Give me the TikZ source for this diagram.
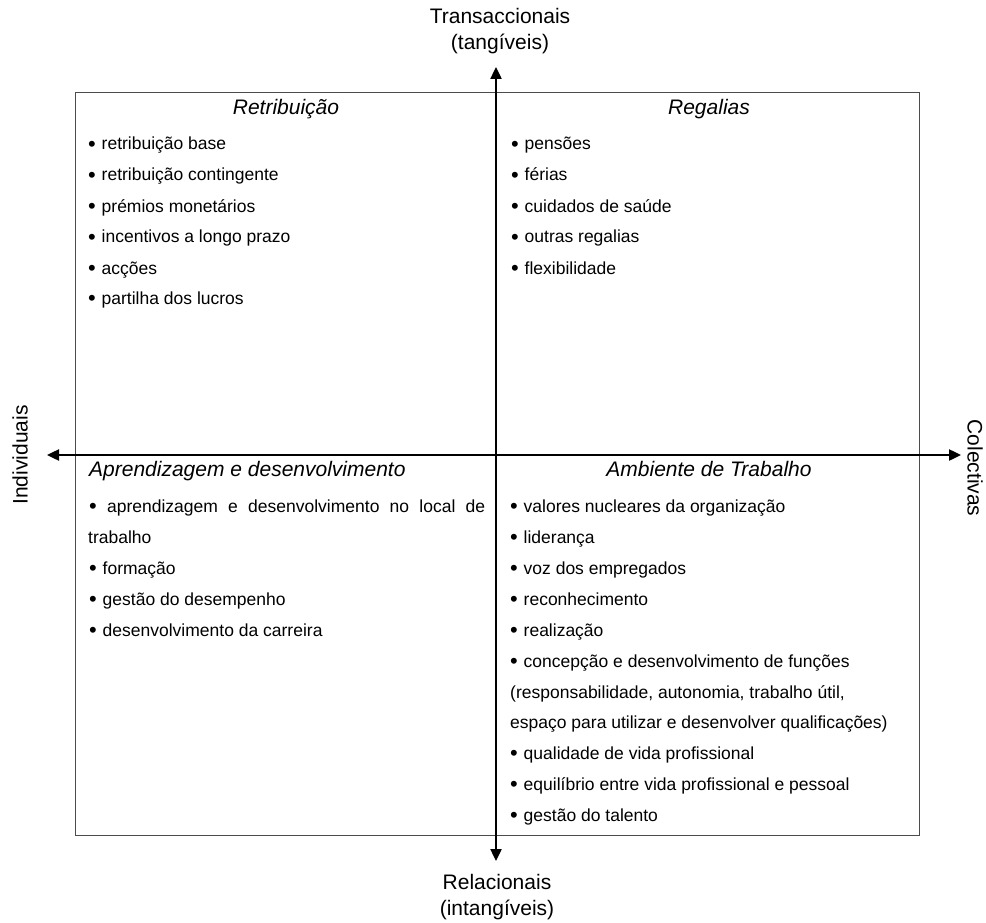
\documentclass[tikz,border=0pt]{standalone}
\usepackage{fontspec}
\setmainfont{Liberation Sans}
\usetikzlibrary{arrows.meta}

% list bullet: a slightly enlarged dot, and the same dot followed by a fixed gap
\newcommand\dotglyph{\raisebox{-1.6pt}{\scalebox{1.25}{•}}}
\newcommand\listdot{\makebox[13.5pt][l]{\dotglyph}}

\begin{document}
\begin{tikzpicture}[x=1pt,y=-1pt,
  item/.style={anchor=base west, inner sep=0pt, font=\fontsize{17.5}{21}\selectfont},
  head/.style={anchor=base, inner sep=0pt, font=\fontsize{21}{25}\selectfont\itshape},
  axislabel/.style={align=center, inner sep=0pt, font=\fontsize{21}{26}\selectfont},
  axis/.style={line width=2.4pt, {Triangle[length=12pt,width=11pt]}-{Triangle[length=12pt,width=11pt]}},
  frame/.style={draw=black!70, line width=1pt}]
\useasboundingbox (0,0) rectangle (986,923);

% outer frame of the four quadrants
\draw[frame] (75,93) rectangle (919,835);

% axes
\coordinate (top) at (496,67);
\coordinate (bottom) at (496,861);
\coordinate (left) at (47,455);
\coordinate (right) at (961,455);
\draw[axis] (bottom) -- (top);
\draw[axis] (left) -- (right);

% axis labels
\node[axislabel] (tlabel) at (500,31) {Transaccionais\\(tangíveis)};
\node[axislabel] (blabel) at (497,897) {Relacionais\\(intangíveis)};
\node[axislabel, rotate=90] (llabel) at (20,455) {Individuais};
\node[axislabel, rotate=-90] (rlabel) at (975,468) {Colectivas};

% top-left quadrant
\node[head] (h1) at (286,115) {Retribuição};
\node[item] (a1) at (88,150) {\listdot retribuição base};
\node[item] (a2) at (88,181) {\listdot retribuição contingente};
\node[item] (a3) at (88,212) {\listdot prémios monetários};
\node[item] (a4) at (88,243) {\listdot incentivos a longo prazo};
\node[item] (a5) at (88,274) {\listdot acções};
\node[item] (a6) at (88,304) {\listdot partilha dos lucros};

% top-right quadrant
\node[head] (h2) at (709,115) {Regalias};
\node[item] (b1) at (511,150) {\listdot pensões};
\node[item] (b2) at (511,181) {\listdot férias};
\node[item] (b3) at (511,212) {\listdot cuidados de saúde};
\node[item] (b4) at (511,243) {\listdot outras regalias};
\node[item] (b5) at (511,274) {\listdot flexibilidade};

% bottom-left quadrant
\node[head, anchor=base west] (h3) at (89,476) {Aprendizagem e desenvolvimento};
\node[item] (c1) at (89,512) {\makebox[396pt][s]{\dotglyph\ aprendizagem e desenvolvimento no local de}};
\node[item] (c2) at (88,543) {trabalho};
\node[item] (c3) at (89,574) {\listdot formação};
\node[item] (c4) at (89,605) {\listdot gestão do desempenho};
\node[item] (c5) at (89,636) {\listdot desenvolvimento da carreira};

% bottom-right quadrant
\node[head] (h4) at (709,476) {Ambiente de Trabalho};
\node[item] (d1) at (510,512) {\listdot valores nucleares da organização};
\node[item] (d2) at (510,543) {\listdot liderança};
\node[item] (d3) at (510,574) {\listdot voz dos empregados};
\node[item] (d4) at (510,605) {\listdot reconhecimento};
\node[item] (d5) at (510,636) {\listdot realização};
\node[item] (d6) at (510,667) {\listdot concepção e desenvolvimento de funções};
\node[item] (d7) at (510,698) {(responsabilidade, autonomia, trabalho útil,};
\node[item] (d8) at (510,728) {espaço para utilizar e desenvolver qualificações)};
\node[item] (d9) at (510,759) {\listdot qualidade de vida profissional};
\node[item] (d10) at (510,790) {\listdot equilíbrio entre vida profissional e pessoal};
\node[item] (d11) at (510,821) {\listdot gestão do talento};
\end{tikzpicture}
\end{document}
